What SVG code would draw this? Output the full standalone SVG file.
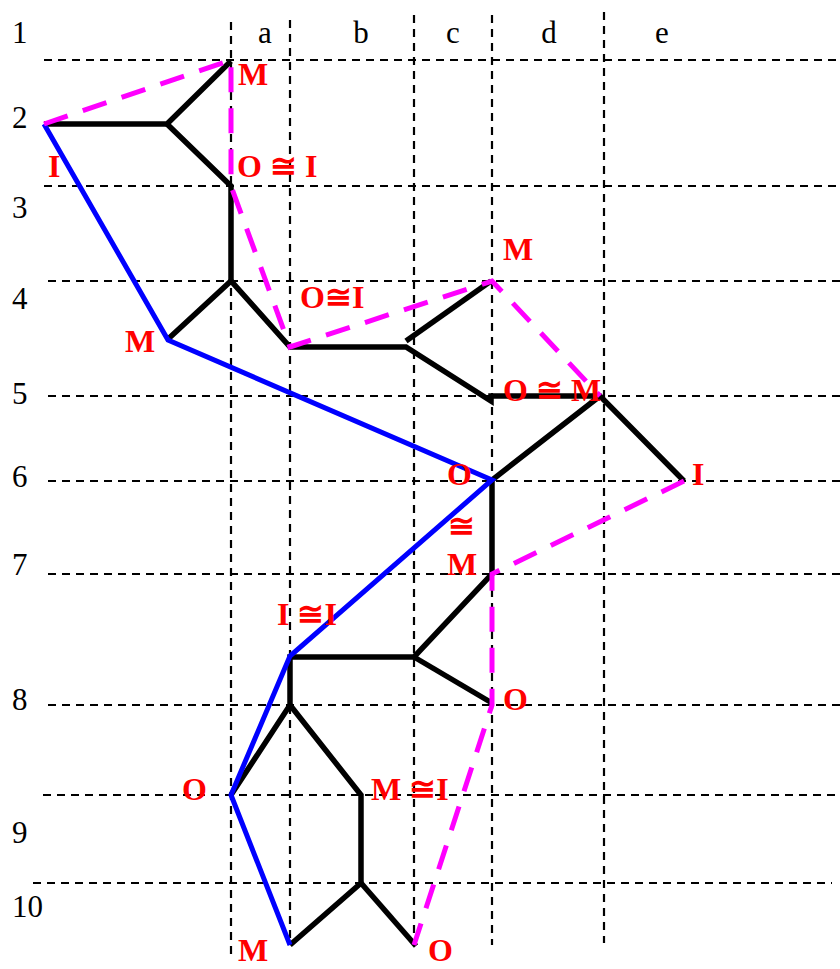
<svg xmlns="http://www.w3.org/2000/svg" width="840" height="969" viewBox="0 0 840 969">
<style>
.grid line{stroke:#000;stroke-width:2.2;stroke-dasharray:8,6;fill:none}
.axis{font-family:"Liberation Serif","Times New Roman",serif;font-size:31px;fill:#000}
.tree{stroke:#000;stroke-width:5.5;fill:none;stroke-linejoin:miter}
.blue{stroke:#0000ff;stroke-width:5;fill:none;stroke-linejoin:miter}
.mag{stroke:#ff00ff;stroke-width:5;fill:none;stroke-dasharray:25,16}
.lbl{font-family:"Liberation Serif","Times New Roman","DejaVu Serif",serif;font-size:32px;font-weight:bold;fill:#ff0000}
</style>
<rect width="840" height="969" fill="#fff"/>
<g id="grid" class="grid">
<line x1="44" y1="60" x2="840" y2="60"/>
<line x1="44" y1="186" x2="840" y2="186"/>
<line x1="48" y1="281" x2="840" y2="281"/>
<line x1="48" y1="396" x2="840" y2="396"/>
<line x1="48" y1="481" x2="840" y2="481"/>
<line x1="48" y1="574" x2="840" y2="574"/>
<line x1="48" y1="705" x2="840" y2="705"/>
<line x1="43" y1="795" x2="840" y2="795"/>
<line x1="33" y1="883" x2="832" y2="883"/>
<line x1="231" y1="22" x2="231" y2="955"/>
<line x1="290" y1="20" x2="290" y2="945"/>
<line x1="414" y1="15" x2="414" y2="940"/>
<line x1="492" y1="15" x2="492" y2="945"/>
<line x1="604" y1="12" x2="604" y2="943"/>
</g>
<g id="axis-labels" class="axis">
<text x="12" y="43">1</text>
<text x="12" y="128">2</text>
<text x="12" y="218">3</text>
<text x="12" y="309">4</text>
<text x="12" y="404">5</text>
<text x="12" y="487">6</text>
<text x="12" y="575">7</text>
<text x="12" y="710">8</text>
<text x="12" y="843">9</text>
<text x="12" y="917">10</text>
<text x="265" y="43" text-anchor="middle">a</text>
<text x="361" y="43" text-anchor="middle">b</text>
<text x="453" y="43" text-anchor="middle">c</text>
<text x="549" y="43" text-anchor="middle">d</text>
<text x="662" y="43" text-anchor="middle">e</text>
</g>
<g id="connectors">
<path class="tree" d="M44,124 L167,124 L231,61"/>
<path class="tree" d="M167,124 L231,186 L231,281"/>
<path class="tree" d="M167,340 L231,281 L290,347 L406,347 L491,401 L491,396 L600,396 L684,481"/>
<path class="tree" d="M406,341 L491,281"/>
<path class="tree" d="M600,396 L492,480 L492,574 L414,657 L290,657 L290,705 L231,795"/>
<path class="tree" d="M414,657 L492,703"/>
<path class="tree" d="M290,705 L361,795 L361,883 L290,945"/>
<path class="tree" d="M361,883 L416,946"/>
<path class="blue" d="M44,124 L168,340 L492,480 L290,656 L231,795 L290,945"/>
<path class="mag" d="M44,124 L231,60 L231,186 L290,347 L492,281 L600,396"/>
<path class="mag" d="M684,481 L492,574 L492,705 L414,945"/>
</g>
<g id="n-M1"><text class="lbl" x="238" y="85">M</text></g>
<g id="n-I1"><text class="lbl" x="48" y="177">I</text></g>
<g id="n-OI1"><text class="lbl" x="237" y="177">O ≅ I</text></g>
<g id="n-M2"><text class="lbl" x="125" y="352">M</text></g>
<g id="n-OI2"><text class="lbl" x="300" y="308">O≅I</text></g>
<g id="n-M3"><text class="lbl" x="503" y="260">M</text></g>
<g id="n-OM"><text class="lbl" x="503" y="401">O ≅ M</text></g>
<g id="n-O1"><text class="lbl" x="447" y="485">O</text></g>
<g id="n-I2"><text class="lbl" x="692" y="485">I</text></g>
<g id="n-cong"><text class="lbl" x="448" y="537">≅</text></g>
<g id="n-M4"><text class="lbl" x="447" y="575">M</text></g>
<g id="n-II"><text class="lbl" x="277" y="625">I ≅I</text></g>
<g id="n-O2"><text class="lbl" x="503" y="710">O</text></g>
<g id="n-O3"><text class="lbl" x="182" y="800">O</text></g>
<g id="n-MI"><text class="lbl" x="371" y="800">M ≅I</text></g>
<g id="n-M5"><text class="lbl" x="238" y="961">M</text></g>
<g id="n-O4"><text class="lbl" x="428" y="961">O</text></g>
</svg>
